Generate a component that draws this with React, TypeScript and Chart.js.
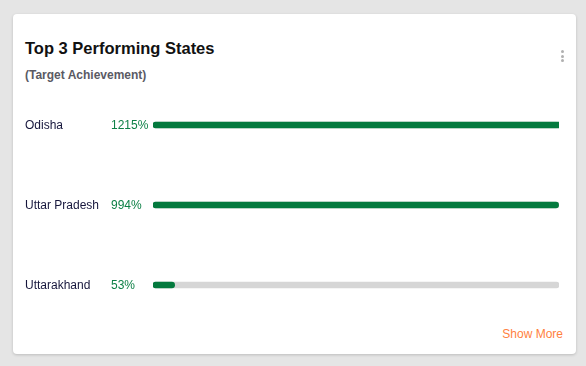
import React, { useEffect, useRef } from "react";
import { Chart, registerables } from "chart.js";

Chart.register(...registerables);

const states = ["Odisha", "Uttar Pradesh", "Uttarakhand"];
const achievement = [1215, 994, 53];
const trackMax = [995, 995, 995];

const FONT = "'Liberation Sans', Arial, Helvetica, sans-serif";

export default function App() {
  const ref = useRef<HTMLCanvasElement | null>(null);

  useEffect(() => {
    if (!ref.current) return;
    const labelPlugin = {
      id: "rowLabels",
      afterDatasetsDraw(chart: any) {
        const ctx = chart.ctx;
        const y = chart.scales.y;
        ctx.save();
        ctx.font = `12px ${FONT}`;
        ctx.textBaseline = "middle";
        ctx.textAlign = "left";
        states.forEach((s, i) => {
          const py = y.getPixelForValue(i) + 1;
          ctx.fillStyle = "#16163c";
          ctx.fillText(s, 12, py);
          ctx.fillStyle = "#0d8046";
          ctx.fillText(`${achievement[i]}%`, 98, py);
        });
        ctx.restore();
      },
    };
    const chart = new Chart(ref.current, {
      type: "bar",
      data: {
        labels: states,
        datasets: [
          {
            data: achievement,
            backgroundColor: "#047a3e",
            barThickness: 6,
            borderRadius: 3,
            borderSkipped: false,
            grouped: false,
            order: 0,
          } as any,
          {
            data: trackMax,
            backgroundColor: "#d6d6d6",
            barThickness: 6,
            borderRadius: 3,
            borderSkipped: false,
            grouped: false,
            order: 1,
          } as any,
        ],
      },
      options: {
        indexAxis: "y",
        animation: false,
        responsive: true,
        maintainAspectRatio: false,
        layout: { padding: { left: 140, right: 17, top: 0, bottom: 0 } },
        plugins: { legend: { display: false }, tooltip: { enabled: false } },
        scales: {
          x: { display: false, min: 0, max: 995 },
          y: { display: false },
        },
      },
      plugins: [labelPlugin],
    });
    return () => chart.destroy();
  }, []);

  const dot: React.CSSProperties = {
    width: 3,
    height: 3,
    borderRadius: 1.5,
    background: "#b0b0b0",
    marginBottom: 1.5,
  };

  return (
    <div style={{ position: "fixed", inset: 0, background: "#e5e5e5", fontFamily: FONT }}>
      <div
        style={{
          position: "absolute",
          left: 13,
          top: 14,
          width: 563,
          height: 340,
          background: "#fff",
          borderRadius: 4,
          boxShadow: "0 1px 3px rgba(0,0,0,0.18)",
        }}
      >
        <div
          style={{
            position: "absolute",
            left: 12,
            top: 26,
            fontSize: 16.5,
            lineHeight: "17px",
            fontWeight: "bold",
            color: "#111",
            whiteSpace: "nowrap",
          }}
        >
          Top 3 Performing States
        </div>
        <div
          style={{
            position: "absolute",
            left: 12,
            top: 55,
            fontSize: 12,
            lineHeight: "12px",
            fontWeight: "bold",
            color: "#5a5a64",
            whiteSpace: "nowrap",
          }}
        >
          (Target Achievement)
        </div>
        <div style={{ position: "absolute", left: 548, top: 36 }}>
          <div style={dot} />
          <div style={dot} />
          <div style={dot} />
        </div>
        <div style={{ position: "absolute", left: 0, top: 71, width: 563, height: 240 }}>
          <canvas ref={ref} />
        </div>
        <div
          style={{
            position: "absolute",
            right: 13,
            top: 314,
            fontSize: 12,
            lineHeight: "12px",
            color: "#ff7f40",
            whiteSpace: "nowrap",
          }}
        >
          Show More
        </div>
      </div>
    </div>
  );
}
